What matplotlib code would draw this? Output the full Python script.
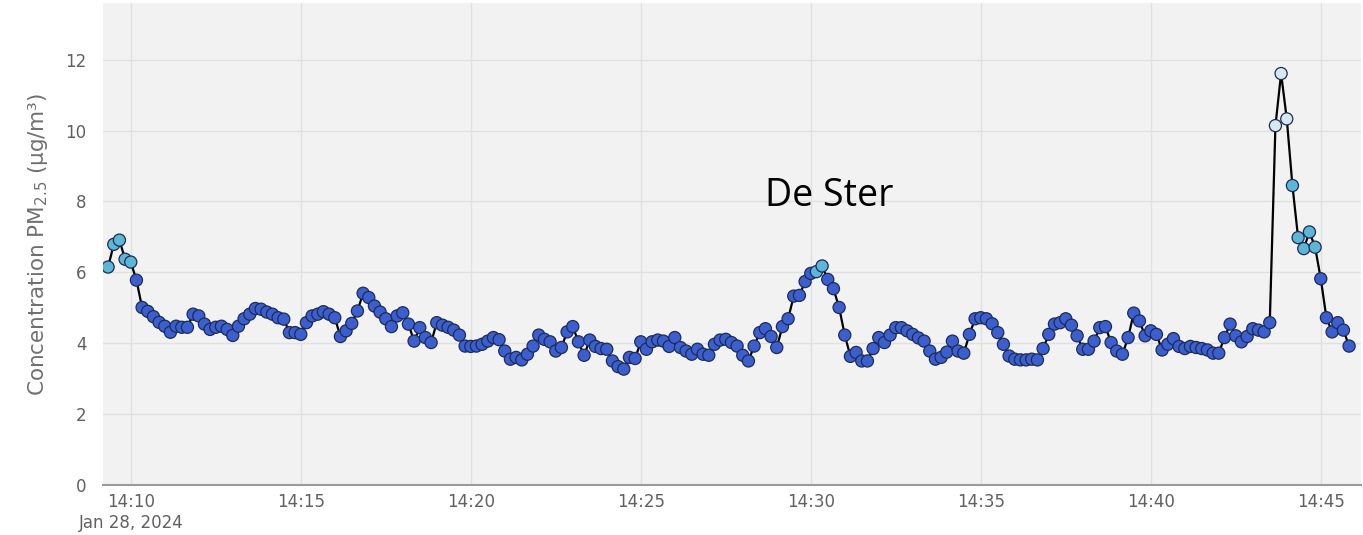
import matplotlib
matplotlib.use("Agg")
import matplotlib.pyplot as plt
import matplotlib.dates as mdates
import pandas as pd
import numpy as np

# ---- data (10-second samples, PM2.5 in µg/m³) ----
start_time = "2024-01-28 14:09:20"
step_seconds = 10
pm25 = [
    6.15, 6.79, 6.91, 6.37, 6.29, 5.78, 5.01, 4.90, 4.75, 4.59,
    4.48, 4.31, 4.48, 4.45, 4.45, 4.82, 4.77, 4.54, 4.39, 4.45,
    4.48, 4.39, 4.22, 4.48, 4.69, 4.82, 4.98, 4.96, 4.88, 4.82,
    4.72, 4.68, 4.30, 4.30, 4.25, 4.58,
    4.77, 4.82, 4.89, 4.82, 4.72, 4.19, 4.35, 4.56, 4.91, 5.41,
    5.29, 5.05, 4.88, 4.69, 4.47, 4.77, 4.86, 4.54, 4.06, 4.44,
    4.16, 4.02, 4.58, 4.51, 4.45, 4.37, 4.23, 3.92, 3.91,
    3.92, 3.97, 4.06, 4.16, 4.10, 3.78, 3.55, 3.60, 3.53, 3.69,
    3.92, 4.23, 4.11, 4.04, 3.78, 3.88, 4.32, 4.47, 4.04, 3.66,
    4.09, 3.91, 3.85, 3.83, 3.50, 3.34, 3.27, 3.60, 3.57, 4.04,
    3.83, 4.04, 4.09, 4.06, 3.91, 4.16, 3.88, 3.78, 3.69, 3.83,
    3.69, 3.66, 3.97, 4.09, 4.11, 4.02, 3.92, 3.66, 3.50, 3.92,
    4.30, 4.41, 4.19, 3.88, 4.47, 4.69, 5.33, 5.35, 5.74, 5.97,
    6.02, 6.18, 5.80, 5.54, 5.01, 4.23, 3.63, 3.74, 3.50, 3.50,
    3.85, 4.16, 4.02, 4.23, 4.44, 4.44,
    4.35, 4.25, 4.15, 4.06, 3.78, 3.55, 3.60, 3.75, 4.06, 3.78,
    3.72, 4.25, 4.69, 4.72, 4.69, 4.55, 4.30, 3.97, 3.64, 3.55,
    3.53, 3.53, 3.55, 3.53, 3.85, 4.25, 4.54,
    4.58, 4.69, 4.51, 4.21, 3.83, 3.83, 4.06, 4.44, 4.47, 4.02,
    3.78, 3.69, 4.16, 4.85, 4.63, 4.21, 4.35, 4.25, 3.81, 3.97,
    4.13, 3.91, 3.85, 3.91, 3.88, 3.85, 3.81, 3.72, 3.72, 4.16,
    4.54, 4.21, 4.04, 4.19, 4.41, 4.37, 4.32, 4.58, 10.14, 11.61,
    10.33, 8.45, 6.98, 6.67, 7.14, 6.71, 5.82, 4.72, 4.32, 4.58,
    4.37, 3.92,
]
y_ticks = [0, 2, 4, 6, 8, 10, 12]
y_label = "Concentration PM$_{2.5}$ (µg/m³)"
date_label = "Jan 28, 2024"
annotation = "De Ster"
annotation_time = "2024-01-28 14:28:39"
annotation_value = 7.86

times = pd.date_range(start=start_time, periods=len(pm25), freq=f"{step_seconds}s")
vals = np.array(pm25)

def colour(v):
    if v > 10:
        return "#d6e9ee"
    if v >= 6:
        return "#5cb6d6"
    return "#3c5fcf"

fig = plt.figure(figsize=(13.63, 5.35), dpi=100)
ax = fig.add_axes([103 / 1363, 1 - 485 / 535, 1258 / 1363, 482 / 535])
ax.set_facecolor("#f2f2f2")

ax.plot(times, vals, color="black", lw=1.6, zorder=3)
ax.scatter(times, vals, s=76, c=[colour(v) for v in vals],
           edgecolors="#1e2b55", linewidths=0.9, zorder=4)

ax.set_ylim(0, 13.6)
ax.set_xlim(pd.Timestamp("2024-01-28 14:09:11"), pd.Timestamp("2024-01-28 14:46:11"))
ax.set_yticks(y_ticks)
ax.xaxis.set_major_locator(mdates.MinuteLocator(byminute=range(0, 60, 5)))

xt = ax.get_xticks()
labels = []
for i, t in enumerate(xt):
    s = mdates.num2date(t).strftime("%H:%M")
    if i == 0:
        s = s + "\n" + date_label
    labels.append(s)
ax.set_xticks(xt)
ax.set_xticklabels(labels, multialignment="center")

ax.grid(True, color="#e0e0e0", lw=1)
ax.set_axisbelow(True)
for sp in ["top", "right", "left"]:
    ax.spines[sp].set_visible(False)
ax.spines["bottom"].set_color("#9a9a9a")
ax.spines["bottom"].set_linewidth(1.5)
ax.tick_params(axis="x", length=0, pad=6, labelsize=12, labelcolor="#606060")
ax.tick_params(axis="y", length=0, pad=12, labelsize=12, labelcolor="#606060")

ax.set_ylabel(y_label, fontsize=15.5, color="#707070", labelpad=11)

ax.text(pd.Timestamp(annotation_time), annotation_value, annotation, fontsize=27,
        family="Open Sans", color="black", ha="left", va="baseline")

fig.savefig("out.png", dpi=100, facecolor="white")
